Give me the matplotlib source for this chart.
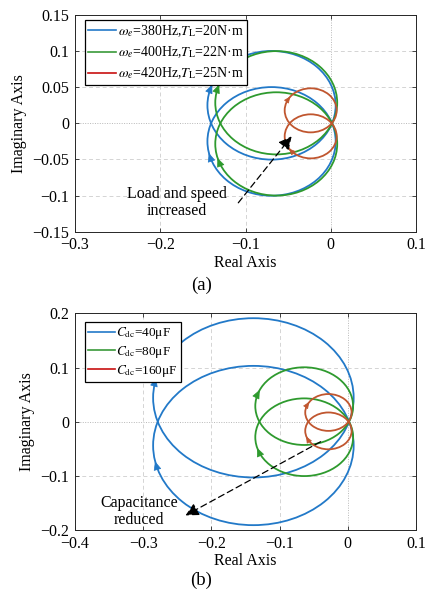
import numpy as np
import matplotlib
matplotlib.use("Agg")
import matplotlib.pyplot as plt
from matplotlib.patches import Circle
from matplotlib.lines import Line2D

plt.rcParams['font.family'] = ['Liberation Serif', 'DejaVu Serif']
plt.rcParams['mathtext.fontset'] = 'stix'
plt.rcParams['axes.unicode_minus'] = True

# ---------------- data: panel (a) ----------------
labels_a = [r"$\omega_e$=380Hz,$T_{\mathrm{L}}$=20N·m",
            r"$\omega_e$=400Hz,$T_{\mathrm{L}}$=22N·m",
            r"$\omega_e$=420Hz,$T_{\mathrm{L}}$=25N·m"]
cx_a = [-0.0695, -0.0640, -0.0236]     # circle centre (real)
cy_a = [0.0250, 0.0285, 0.0180]        # circle centre (imag, upper loop)
r_a = [0.0752, 0.0715, 0.0305]         # radius
arrow_up_a = [160.7, 162.5, 148.7]     # arrow angle on upper loop (deg)
arrow_lo_a = [195.4, 199.0, 221.0]     # arrow angle on lower loop (deg)
xticks_a = [-0.3, -0.2, -0.1, 0, 0.1]
xticklabels_a = ["−0.3", "−0.2", "−0.1", "0", "0.1"]
yticks_a = [-0.15, -0.1, -0.05, 0, 0.05, 0.1, 0.15]
yticklabels_a = ["−0.15", "−0.1", "−0.05", "0", "0.05", "0.1", "0.15"]

# ---------------- data: panel (b) ----------------
labels_b = [r"$C_{\mathrm{dc}}$=40μF", r"$C_{\mathrm{dc}}$=80μF", r"$C_{\mathrm{dc}}$=160μF"]
cx_b = [-0.1385, -0.0640, -0.0285]
cy_b = [0.0440, 0.0287, 0.0170]
r_b = [0.1470, 0.0717, 0.0340]
arrow_up_b = [167.0, 158.5, 152.0]
arrow_lo_b = [193.0, 199.0, 204.0]
xticks_b = [-0.4, -0.3, -0.2, -0.1, 0, 0.1]
xticklabels_b = ["−0.4", "−0.3", "−0.2", "−0.1", "0", "0.1"]
yticks_b = [-0.2, -0.1, 0, 0.1, 0.2]
yticklabels_b = ["−0.2", "−0.1", "0", "0.1", "0.2"]

curve_colors = ['#2279c8', '#2e9a2e', '#c0562f']
legend_colors = ['#2279c8', '#3a9a3a', '#c81010']
arrow_sizes = [11, 11, 8]

FS = 11.5

fig = plt.figure(figsize=(4.25, 5.95), dpi=100)
ax_a = fig.add_axes([0.1765, 0.6106, 0.8025, 0.3642])
ax_b = fig.add_axes([0.1765, 0.1092, 0.8025, 0.3642])


def draw_panel(ax, cx, cy, r, aup, alo, labels, xt, xtl, yt, ytl, xlim, ylim,
               leg_anchor, leg_fs, leg_sp):
    ax.set_xlim(*xlim)
    ax.set_ylim(*ylim)
    # grid
    for v in xt:
        if v == 0:
            ax.axvline(v, color='#b8b8b8', lw=0.7, ls=(0, (1, 1.5)), zorder=0)
        else:
            ax.axvline(v, color='#d4d4d4', lw=0.7, ls=(0, (4, 3)), zorder=0)
    for v in yt:
        if v == 0:
            ax.axhline(v, color='#b8b8b8', lw=0.7, ls=(0, (1, 1.5)), zorder=0)
        else:
            ax.axhline(v, color='#d4d4d4', lw=0.7, ls=(0, (4, 3)), zorder=0)
    for i in range(len(cx)):
        for sgn, ang in ((1, aup[i]), (-1, alo[i])):
            c = Circle((cx[i], sgn * cy[i]), r[i], fill=False,
                       edgecolor=curve_colors[i], lw=1.3, zorder=2)
            ax.add_patch(c)
            t = np.deg2rad(ang)
            px = cx[i] + r[i] * np.cos(t)
            py = sgn * cy[i] + r[i] * np.sin(t)
            dx = np.sin(t) * 4e-3
            dy = -np.cos(t) * 4e-3
            ax.annotate('', xy=(px + dx, py + dy), xytext=(px - dx, py - dy),
                        arrowprops=dict(arrowstyle='-|>,head_length=0.5,head_width=0.22',
                                        color=curve_colors[i],
                                        lw=0.5, mutation_scale=arrow_sizes[i],
                                        shrinkA=0, shrinkB=0), zorder=3)
    ax.set_xticks(xt)
    ax.set_xticklabels(xtl, fontsize=FS)
    ax.set_yticks(yt)
    ax.set_yticklabels(ytl, fontsize=FS)
    ax.tick_params(direction='in', length=3, width=0.6, top=True, right=True,
                   colors='#262626', labelcolor='black', pad=4)
    for s in ax.spines.values():
        s.set_color('#262626')
        s.set_linewidth(0.7)
    ax.set_xlabel('Real Axis', fontsize=FS, labelpad=1)
    ax.set_ylabel('Imaginary Axis', fontsize=FS, labelpad=4)
    handles = [Line2D([], [], color=legend_colors[i], lw=1.2) for i in range(len(labels))]
    leg = ax.legend(handles, labels, loc='upper left', bbox_to_anchor=leg_anchor,
                    borderaxespad=0, fancybox=False, edgecolor='black', framealpha=1,
                    fontsize=leg_fs, handlelength=2.0, handletextpad=0.1,
                    labelspacing=leg_sp, borderpad=0.25)
    leg.get_frame().set_linewidth(0.9)
    leg.set_zorder(5)


draw_panel(ax_a, cx_a, cy_a, r_a, arrow_up_a, arrow_lo_a, labels_a,
           xticks_a, xticklabels_a, yticks_a, yticklabels_a,
           (-0.3, 0.1), (-0.15, 0.15), (0.029, 0.977), 10, 0.4)
draw_panel(ax_b, cx_b, cy_b, r_b, arrow_up_b, arrow_lo_b, labels_b,
           xticks_b, xticklabels_b, yticks_b, yticklabels_b,
           (-0.4, 0.1), (-0.2, 0.2), (0.029, 0.96), 9.5, 0.2)

# annotations
ax_a.annotate('', xy=(-0.046, -0.018), xytext=(-0.1085, -0.110),
              arrowprops=dict(arrowstyle='-|>,head_length=0.55,head_width=0.28',
                              color='black', lw=0.9,
                              ls=(0, (5, 3)), mutation_scale=14,
                              shrinkA=0, shrinkB=0), zorder=4)
ax_a.text(-0.181, -0.110, 'Load and speed\nincreased', fontsize=FS,
          ha='center', va='center', linespacing=1.05, zorder=4)

ax_b.annotate('', xy=(-0.238, -0.173), xytext=(-0.040, -0.037),
              arrowprops=dict(arrowstyle='-|>,head_length=0.55,head_width=0.28',
                              color='black', lw=0.9,
                              ls=(0, (5, 3)), mutation_scale=14,
                              shrinkA=0, shrinkB=0), zorder=4)
ax_b.text(-0.306, -0.166, 'Capacitance\nreduced', fontsize=FS,
          ha='center', va='center', linespacing=1.05, zorder=4)

fig.text(0.4735, 1 - 285 / 595, '(a)', fontsize=13.5, ha='center', va='center')
fig.text(0.4735, 1 - 580 / 595, '(b)', fontsize=13.5, ha='center', va='center')

fig.savefig('out.png', dpi=100)
